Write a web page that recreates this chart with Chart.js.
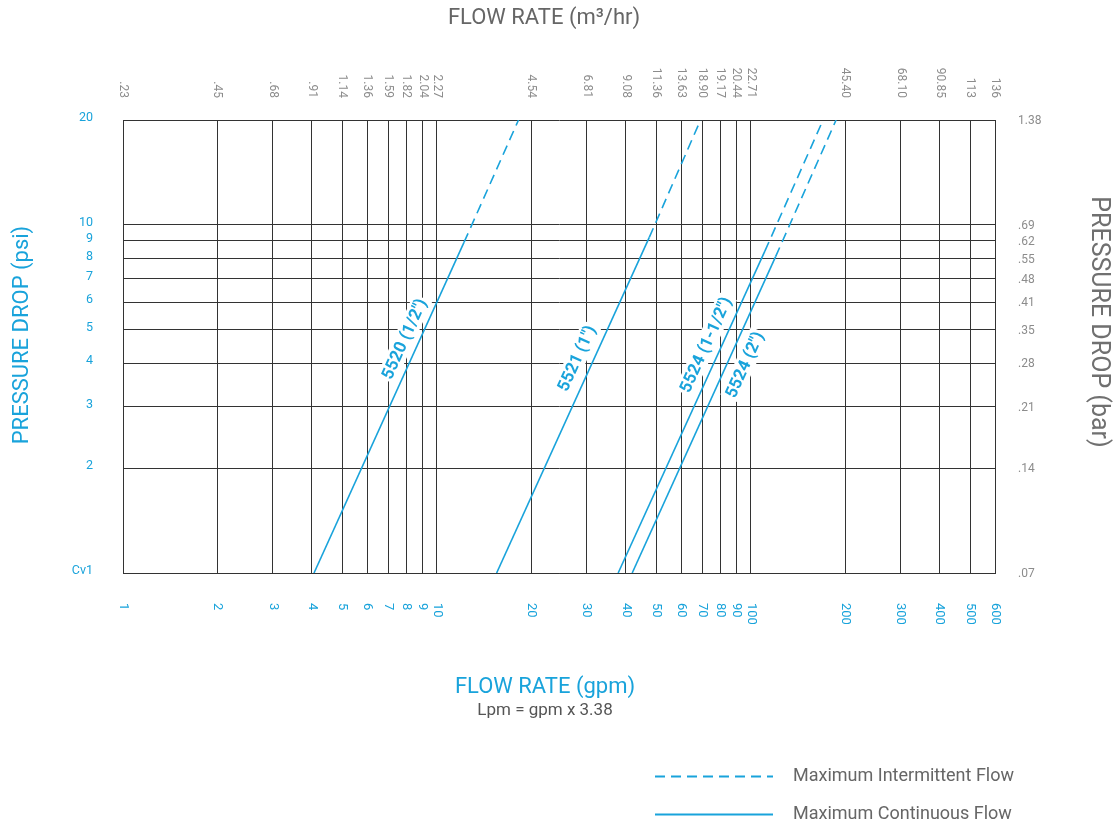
<!DOCTYPE html>
<html>
<head>
<meta charset="utf-8">
<title>Pressure drop chart</title>
<script src="https://cdn.jsdelivr.net/npm/chart.js@4.4.1/dist/chart.umd.min.js"></script>
<style>
  html, body { margin: 0; padding: 0; background: #ffffff; }
  canvas { display: block; }
</style>
</head>
<body>
<canvas id="pressureChart" width="1114" height="828"></canvas>
<script>
// grid values and tick labels
var gpmTicks = [1, 2, 3, 4, 5, 6, 7, 8, 9, 10, 20, 30, 40, 50, 60, 70, 80, 90, 100, 200, 300, 400, 500, 600];
var m3hrLabels = [".23", ".45", ".68", ".91", "1.14", "1.36", "1.59", "1.82", "2.04", "2.27", "4.54", "6.81", "9.08", "11.36", "13.63", "18.90", "19.17", "20.44", "22.71", "45.40", "68.10", "90.85", "113", "136"];
var psiTicks = [1, 2, 3, 4, 5, 6, 7, 8, 9, 10, 20];
var psiLabels = ["Cv1", "2", "3", "4", "5", "6", "7", "8", "9", "10", "20"];
var barLabels = [".07", ".14", ".21", ".28", ".35", ".41", ".48", ".55", ".62", ".69", "1.38"];

// one line per valve: flow (gpm) at 1 psi, at the end of continuous flow, and at 20 psi
var valveNames = ["5520 (1/2\")", "5521 (1\")", "5524 (1-1/2\")", "5524 (2\")"];
var flowAt1psi = [4.06, 15.5, 37.8, 41.9];
var flowAtLimit = [12.2, 47.5, 110.9, 120];
var psiAtLimit = [8.9, 9.2, 8.4, 8.1];
var flowAt20psi = [18.2, 69.2, 170, 187];

var BLUE = "#19a3db";
var GRID = "#333333";
var FONT = "Roboto, 'Noto Sans', sans-serif";

document.addEventListener("DOMContentLoaded", function() {
  var ctx = document.getElementById("pressureChart").getContext("2d");

  var datasets = [];
  valveNames.forEach(function(name, i) {
    datasets.push({
      label: name + " continuous",
      data: [{ x: flowAt1psi[i], y: 1 }, { x: flowAtLimit[i], y: psiAtLimit[i] }],
      borderColor: BLUE,
      borderWidth: 1.6,
      showLine: true,
      pointRadius: 0
    });
    datasets.push({
      label: name + " intermittent",
      data: [{ x: flowAtLimit[i], y: psiAtLimit[i] }, { x: flowAt20psi[i], y: 20 }],
      borderColor: BLUE,
      borderWidth: 1.6,
      borderDash: [10, 6],
      showLine: true,
      pointRadius: 0
    });
  });

  // where each valve name sits along its continuous segment (t) and how far off the line (px)
  var labelPlace = [
    { t: 0.69, off: 14.5 },
    { t: 0.62, off: 16 },
    { t: 0.69, off: 15 },
    { t: 0.68, off: -16.5 }
  ];
  var labelFont = "bold 17px " + FONT;

  function labelGeometry(chart, i) {
    var meta = chart.getDatasetMeta(i * 2);
    var p0 = meta.data[0], p1 = meta.data[1];
    var dx = p1.x - p0.x, dy = p1.y - p0.y;
    var len = Math.sqrt(dx * dx + dy * dy);
    var ux = dx / len, uy = dy / len;
    var nx = uy, ny = -ux; // left-hand normal (up-left)
    var pl = labelPlace[i];
    return {
      x: p0.x + dx * pl.t + nx * pl.off,
      y: p0.y + dy * pl.t + ny * pl.off,
      angle: Math.atan2(dy, dx)
    };
  }

  var decorations = {
    id: "decorations",
    beforeDatasetsDraw: function(chart) {
      var c = chart.ctx;
      c.save();
      c.font = labelFont;
      valveNames.forEach(function(name, i) {
        var g = labelGeometry(chart, i);
        var w = c.measureText(name).width;
        c.save();
        c.translate(g.x, g.y);
        c.rotate(g.angle);
        c.fillStyle = "#ffffff";
        c.fillRect(-w / 2 - 2, -10, w + 4, 20);
        c.restore();
      });
      c.restore();
    },
    afterDraw: function(chart) {
      var c = chart.ctx;
      var xs = chart.scales.x, ys = chart.scales.y;
      c.save();

      // valve names along their lines
      c.font = labelFont;
      c.fillStyle = BLUE;
      c.textAlign = "center";
      c.textBaseline = "middle";
      valveNames.forEach(function(name, i) {
        var g = labelGeometry(chart, i);
        c.save();
        c.translate(g.x, g.y);
        c.rotate(g.angle);
        c.fillText(name, 0, 1);
        c.restore();
      });

      // top axis: m3/hr
      c.font = "12px " + FONT;
      c.fillStyle = "#8c8c8c";
      c.textAlign = "right";
      gpmTicks.forEach(function(v, i) {
        c.save();
        c.translate(xs.getPixelForValue(v), 98);
        c.rotate(Math.PI / 2);
        c.fillText(m3hrLabels[i], 0, 0);
        c.restore();
      });

      // bottom axis: gpm
      c.font = "13px " + FONT;
      c.fillStyle = BLUE;
      c.textAlign = "left";
      gpmTicks.forEach(function(v) {
        c.save();
        c.translate(xs.getPixelForValue(v), 603);
        c.rotate(Math.PI / 2);
        c.fillText(String(v), 0, 0);
        c.restore();
      });

      // left axis: psi
      c.font = "12.5px " + FONT;
      c.textAlign = "right";
      psiTicks.forEach(function(v, i) {
        c.fillText(psiLabels[i], 93, ys.getPixelForValue(v) - 2);
      });

      // right axis: bar
      c.font = "12px " + FONT;
      c.fillStyle = "#8c8c8c";
      c.textAlign = "left";
      psiTicks.forEach(function(v, i) {
        c.fillText(barLabels[i], 1018, ys.getPixelForValue(v) + 1);
      });

      // axis titles
      c.textAlign = "center";
      c.font = "22px " + FONT;
      c.fillStyle = "#666666";
      c.fillText("FLOW RATE (m\u00b3/hr)", 544, 18);

      c.save();
      c.translate(22, 335);
      c.rotate(-Math.PI / 2);
      c.font = "22px " + FONT;
      c.fillStyle = BLUE;
      c.fillText("PRESSURE DROP (psi)", 0, 0);
      c.restore();

      c.save();
      c.translate(1098, 322);
      c.rotate(Math.PI / 2);
      c.font = "25px " + FONT;
      c.fillStyle = "#707070";
      c.fillText("PRESSURE DROP (bar)", 0, 0);
      c.restore();

      c.font = "22px " + FONT;
      c.fillStyle = BLUE;
      c.fillText("FLOW RATE (gpm)", 545, 687);
      c.font = "17px " + FONT;
      c.fillStyle = "#555555";
      c.fillText("Lpm = gpm x 3.38", 545, 711);

      // legend
      c.strokeStyle = BLUE;
      c.lineWidth = 2;
      c.setLineDash([10, 6]);
      c.beginPath();
      c.moveTo(655, 776.5);
      c.lineTo(773, 776.5);
      c.stroke();
      c.setLineDash([]);
      c.beginPath();
      c.moveTo(655, 814.5);
      c.lineTo(773, 814.5);
      c.stroke();
      c.font = "18px " + FONT;
      c.fillStyle = "#666666";
      c.textAlign = "left";
      c.fillText("Maximum Intermittent Flow", 793, 776);
      c.fillText("Maximum Continuous Flow", 793, 814);

      c.restore();
    }
  };

  new Chart(ctx, {
    type: "scatter",
    data: { datasets: datasets },
    options: {
      responsive: false,
      animation: false,
      layout: { padding: { left: 123, right: 119, top: 120, bottom: 255 } },
      plugins: {
        legend: { display: false },
        tooltip: { enabled: false }
      },
      scales: {
        x: {
          type: "logarithmic",
          min: 1,
          max: 600,
          afterBuildTicks: function(scale) {
            scale.ticks = gpmTicks.map(function(v) { return { value: v }; });
          },
          afterFit: function(scale) { scale.height = 0; },
          ticks: { display: false },
          grid: { color: GRID, lineWidth: 1, drawTicks: false },
          border: { color: GRID }
        },
        y: {
          type: "logarithmic",
          min: 1,
          max: 20,
          afterBuildTicks: function(scale) {
            scale.ticks = psiTicks.map(function(v) { return { value: v }; });
          },
          afterFit: function(scale) { scale.width = 0; },
          ticks: { display: false },
          grid: { color: GRID, lineWidth: 1, drawTicks: false },
          border: { color: GRID }
        }
      }
    },
    plugins: [decorations]
  });
});
</script>
</body>
</html>
